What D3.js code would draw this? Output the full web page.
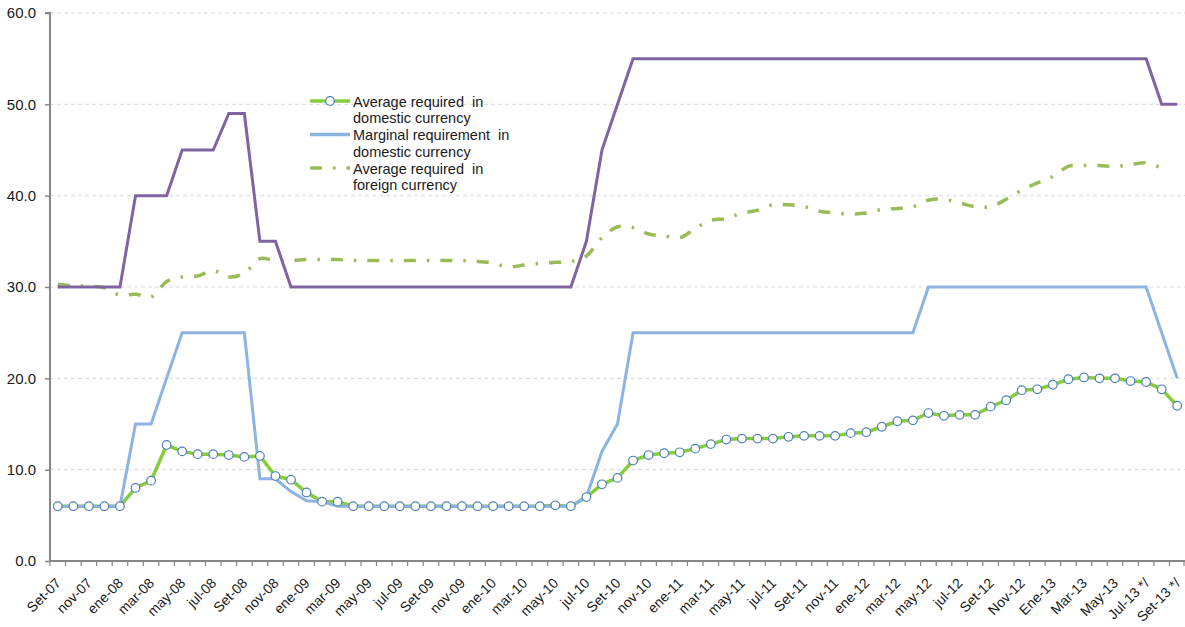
<!DOCTYPE html>
<html>
<head>
<meta charset="utf-8">
<script src="https://cdn.jsdelivr.net/npm/d3@7"></script>
<style>
    body { margin: 0; background: #fff; }
    text { font-family: "Liberation Sans", Arial, sans-serif; fill: #1a1a1a; }
</style>
</head>
<body>
<div id="vis"></div>
<script>
// months, Set-07 .. Set-13 (only every second one is labelled on the axis)
var categories = [
    'Set-07', 'oct-07', 'nov-07', 'dic-07', 'ene-08', 'feb-08', 'mar-08', 'abr-08', 'may-08', 'jun-08',
    'jul-08', 'ago-08', 'Set-08', 'oct-08', 'nov-08', 'dic-08', 'ene-09', 'feb-09', 'mar-09', 'abr-09',
    'may-09', 'jun-09', 'jul-09', 'ago-09', 'Set-09', 'oct-09', 'nov-09', 'dic-09', 'ene-10', 'feb-10',
    'mar-10', 'abr-10', 'may-10', 'jun-10', 'jul-10', 'ago-10', 'Set-10', 'oct-10', 'nov-10', 'dic-10',
    'ene-11', 'feb-11', 'mar-11', 'abr-11', 'may-11', 'jun-11', 'jul-11', 'ago-11', 'Set-11', 'oct-11',
    'nov-11', 'dic-11', 'ene-12', 'feb-12', 'mar-12', 'abr-12', 'may-12', 'jun-12', 'jul-12', 'ago-12',
    'Set-12', 'Oct-12', 'Nov-12', 'Dic-12', 'Ene-13', 'Feb-13', 'Mar-13', 'Abr-13', 'May-13', 'Jun-13',
    'Jul-13 */', 'Ago-13 */', 'Set-13 */'];

// marginal requirement in foreign currency (purple, not in legend)
var marginalForeign = [
    30, 30, 30, 30, 30, 40, 40, 40, 45, 45,
    45, 49, 49, 35, 35, 30, 30, 30, 30, 30,
    30, 30, 30, 30, 30, 30, 30, 30, 30, 30,
    30, 30, 30, 30, 35, 45, 50, 55, 55, 55,
    55, 55, 55, 55, 55, 55, 55, 55, 55, 55,
    55, 55, 55, 55, 55, 55, 55, 55, 55, 55,
    55, 55, 55, 55, 55, 55, 55, 55, 55, 55,
    55, 50, 50];

// marginal requirement in domestic currency
var marginalDomestic = [
    6, 6, 6, 6, 6, 15, 15, 20, 25, 25,
    25, 25, 25, 9, 9, 7.6, 6.6, 6.5, 6, 6,
    6, 6, 6, 6, 6, 6, 6, 6, 6, 6,
    6, 6, 6, 6, 7, 12, 15, 25, 25, 25,
    25, 25, 25, 25, 25, 25, 25, 25, 25, 25,
    25, 25, 25, 25, 25, 25, 30, 30, 30, 30,
    30, 30, 30, 30, 30, 30, 30, 30, 30, 30,
    30, 25, 20];

// average required in domestic currency
var averageDomestic = [
    6.0, 6.0, 6.0, 6.0, 6.0, 8.0, 8.8, 12.7, 12.0, 11.7,
    11.7, 11.6, 11.4, 11.5, 9.3, 8.9, 7.5, 6.5, 6.5, 6.0,
    6.0, 6.0, 6.0, 6.0, 6.0, 6.0, 6.0, 6.0, 6.0, 6.0,
    6.0, 6.0, 6.1, 6.0, 7.0, 8.4, 9.1, 11.0, 11.6, 11.8,
    11.9, 12.3, 12.8, 13.3, 13.4, 13.4, 13.4, 13.6, 13.7, 13.7,
    13.7, 14.0, 14.1, 14.7, 15.3, 15.4, 16.2, 15.9, 16.0, 16.0,
    16.9, 17.6, 18.7, 18.8, 19.3, 19.9, 20.1, 20.0, 20.0, 19.7,
    19.6, 18.8, 17.0];

// average required in foreign currency (no value for the last month)
var averageForeign = [
    30.3, 30.1, 30.1, 29.9, 29.1, 29.2, 28.9, 30.6, 31.1, 31.2,
    31.8, 31.1, 31.5, 33.1, 32.9, 32.9, 33.0, 33.0, 33.0, 32.9,
    32.9, 32.9, 32.9, 32.9, 32.9, 32.9, 32.9, 32.8, 32.6, 32.2,
    32.4, 32.6, 32.7, 32.8, 33.4, 35.4, 36.6, 36.5, 35.8, 35.6,
    35.4, 36.4, 37.3, 37.5, 38.1, 38.4, 39.0, 39.0, 38.8, 38.3,
    38.1, 38.0, 38.1, 38.5, 38.6, 38.8, 39.5, 39.6, 39.2, 38.8,
    38.8, 39.6, 40.6, 41.4, 42.1, 43.2, 43.3, 43.3, 43.2, 43.4,
    43.6, 43.0, null];

var yTicks = [0, 10, 20, 30, 40, 50, 60];

var legendLabels = [
    ['Average required  in', 'domestic currency'],
    ['Marginal requirement  in', 'domestic currency'],
    ['Average required  in', 'foreign currency']];


class ReserveChart
{
    constructor(width, height)
    {
        this.width = width;
        this.height = height;

        this.plot = { left: 50, right: 1185, top: 13, bottom: 561 };

        this.colors = {
            purple: '#8064a2',
            blue: '#8db3e2',
            green: '#86cc3c',
            olive: '#9bbb59',
            marker: '#4f81bd',
            axis: '#868686',
            grid: '#d9d9d9'
        };

        this.svg = d3.select('#vis')
            .append('svg')
                .attr('width', this.width)
                .attr('height', this.height);

        this.x = d3.scaleBand()
            .domain(categories)
            .range([this.plot.left, this.plot.right])
            .paddingInner(0)
            .paddingOuter(0);

        this.y = d3.scaleLinear()
            .domain([0, 60])
            .range([this.plot.bottom, this.plot.top]);
    }

    cx(c)
    {
        return this.x(c) + this.x.bandwidth() / 2;
    }

    drawGrid()
    {
        var that = this;
        this.svg.append('g')
            .selectAll('line')
            .data(yTicks.filter(function(d) { return d > 0; }))
            .enter()
            .append('line')
                .attr('x1', this.plot.left)
                .attr('x2', this.plot.right)
                .attr('y1', function(d) { return that.y(d); })
                .attr('y2', function(d) { return that.y(d); })
                .attr('stroke', this.colors.grid)
                .attr('stroke-width', 1)
                .attr('stroke-dasharray', '4,3');
    }

    drawAxes()
    {
        var that = this;

        // y axis
        var yAxis = d3.axisLeft(this.y)
            .tickValues(yTicks)
            .tickSize(5)
            .tickPadding(9)
            .tickFormat(d3.format('.1f'));

        var gy = this.svg.append('g')
            .attr('transform', 'translate(' + this.plot.left + ',0)')
            .call(yAxis);
        gy.select('.domain')
            .attr('d', 'M-5,' + this.plot.top + 'H0V' + this.plot.bottom)
            .attr('stroke', this.colors.axis)
            .attr('stroke-width', 2);
        gy.selectAll('.tick line').attr('stroke', this.colors.axis).attr('stroke-width', 1.5);
        gy.selectAll('.tick text')
            .style('font-size', '15px')
            .attr('fill', '#1a1a1a');

        // x axis: ticks at month boundaries, labels every second month
        var gx = this.svg.append('g');
        gx.append('line')
            .attr('x1', this.plot.left - 1)
            .attr('x2', this.plot.right)
            .attr('y1', this.plot.bottom)
            .attr('y2', this.plot.bottom)
            .attr('stroke', this.colors.axis)
            .attr('stroke-width', 2);

        var bounds = categories.map(function(c) { return that.x(c); });
        bounds.push(this.plot.right - 1);
        gx.selectAll('.xtick')
            .data(bounds)
            .enter()
            .append('line')
                .attr('class', 'xtick')
                .attr('x1', function(d) { return d; })
                .attr('x2', function(d) { return d; })
                .attr('y1', this.plot.bottom)
                .attr('y2', this.plot.bottom + 5)
                .attr('stroke', this.colors.axis)
                .attr('stroke-width', 1.2);

        gx.selectAll('.xlabel')
            .data(categories.filter(function(c, i) { return i % 2 === 0; }))
            .enter()
            .append('text')
                .attr('class', 'xlabel')
                .attr('transform', function(d) {
                    return 'translate(' + (that.cx(d) + 4) + ',' + (that.plot.bottom + 23) + ') rotate(-45)';
                })
                .attr('text-anchor', 'end')
                .style('font-size', '14px')
                .style('white-space', 'pre')
                .text(function(d) { return d; });
    }

    drawLines()
    {
        var that = this;

        var linear = d3.line()
            .defined(function(d) { return d.v !== null; })
            .x(function(d) { return that.cx(d.c); })
            .y(function(d) { return that.y(d.v); });

        var smooth = d3.line()
            .defined(function(d) { return d.v !== null; })
            .curve(d3.curveCatmullRom.alpha(0.5))
            .x(function(d) { return that.cx(d.c); })
            .y(function(d) { return that.y(d.v); });

        var pair = function(values)
        {
            return categories.map(function(c, i) { return { c: c, v: values[i] }; });
        };

        // foreign average (dash-dot, smoothed)
        this.svg.append('path')
            .datum(pair(averageForeign))
            .attr('d', smooth)
            .attr('fill', 'none')
            .attr('stroke', this.colors.olive)
            .attr('stroke-width', 3.5)
            .attr('stroke-dasharray', '12,11,2.5,11');

        // purple marginal foreign
        this.svg.append('path')
            .datum(pair(marginalForeign))
            .attr('d', linear)
            .attr('fill', 'none')
            .attr('stroke', this.colors.purple)
            .attr('stroke-width', 3)
            .attr('stroke-linejoin', 'miter');

        // green average domestic with markers
        var avg = pair(averageDomestic);
        this.svg.append('path')
            .datum(avg)
            .attr('d', linear)
            .attr('fill', 'none')
            .attr('stroke', this.colors.green)
            .attr('stroke-width', 3.5);

        // blue marginal domestic
        this.svg.append('path')
            .datum(pair(marginalDomestic))
            .attr('d', linear)
            .attr('fill', 'none')
            .attr('stroke', this.colors.blue)
            .attr('stroke-width', 3)
            .attr('stroke-linejoin', 'miter');

        this.svg.append('g')
            .selectAll('circle')
            .data(avg)
            .enter()
            .append('circle')
                .attr('cx', function(d) { return that.cx(d.c); })
                .attr('cy', function(d) { return that.y(d.v); })
                .attr('r', 4.3)
                .attr('fill', '#fff')
                .attr('stroke', this.colors.marker)
                .attr('stroke-width', 1.2);
    }

    drawLegend()
    {
        var that = this;
        var g = this.svg.append('g')
            .attr('transform', 'translate(310,101)');
        var rowGap = 33.5;
        var lineGap = 16.8;

        var styles = [
            { color: this.colors.green, dash: null, marker: true },
            { color: this.colors.blue, dash: null, marker: false },
            { color: this.colors.olive, dash: '12,11,2.5,11', marker: false }];

        legendLabels.forEach(function(lines, i)
        {
            var row = g.append('g').attr('transform', 'translate(0,' + (i * rowGap) + ')');
            row.append('line')
                .attr('x1', 0)
                .attr('x2', 40)
                .attr('y1', 0)
                .attr('y2', 0)
                .attr('stroke', styles[i].color)
                .attr('stroke-width', 3.5)
                .attr('stroke-dasharray', styles[i].dash);
            if(styles[i].marker)
            {
                row.append('circle')
                    .attr('cx', 20)
                    .attr('cy', 0)
                    .attr('r', 4.3)
                    .attr('fill', '#fff')
                    .attr('stroke', that.colors.marker)
                    .attr('stroke-width', 1.2);
            }
            lines.forEach(function(t, j)
            {
                row.append('text')
                    .attr('x', 43)
                    .attr('y', 5.5 + j * lineGap)
                    .style('font-size', '14.5px')
                    .style('white-space', 'pre')
                    .text(t);
            });
        });
    }

    Run()
    {
        this.drawGrid();
        this.drawLines();
        this.drawAxes();
        this.drawLegend();
    }
}


window.onload = function()
{
    var chart = new ReserveChart(1185, 627);
    chart.Run();
}
</script>
</body>
</html>
